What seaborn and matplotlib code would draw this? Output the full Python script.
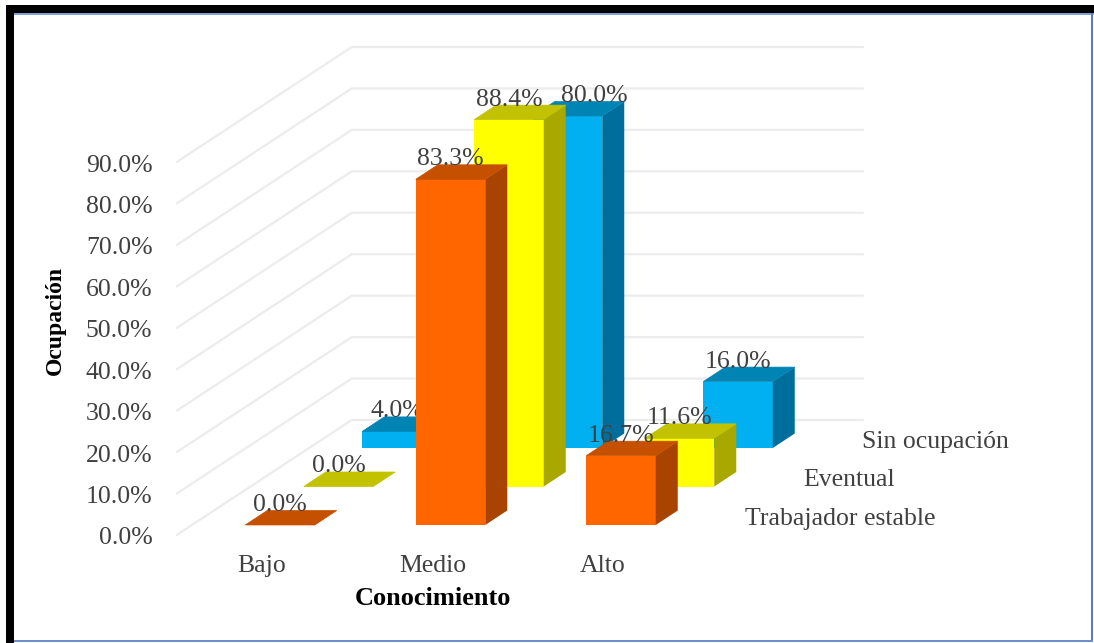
import matplotlib
matplotlib.use("Agg")
import matplotlib.pyplot as plt
from matplotlib.patches import Rectangle
from matplotlib.transforms import ScaledTranslation
import pandas as pd
import seaborn as sns

# ---- data ----
niveles = ["Bajo", "Medio", "Alto"]
trabajador_estable = [0.0, 83.3, 16.7]
eventual = [0.0, 88.4, 11.6]
sin_ocupacion = [4.0, 80.0, 16.0]
series_nombres = ["Trabajador estable", "Eventual", "Sin ocupación"]
y_ticks = [0, 10, 20, 30, 40, 50, 60, 70, 80, 90]
eje_x = "Conocimiento"
eje_y = "Ocupación"

# ---- styles ----
sns.set_theme(style="white")
plt.rcParams["font.family"] = ["Liberation Serif", "DejaVu Serif"]
W, H = 1094, 643
FS = 18.5
TXT = "#404040"
front = ["#FF6600", "#FFFF00", "#00B0F0"]
top = ["#C45000", "#C2C200", "#0084B4"]
side = ["#A84400", "#A8A800", "#006E9C"]

CAT_PX = 170.5      # px per category
PCT_PX = 4.15       # px per percent
DEPTH_X, DEPTH_Y = 22.0, 14.5        # bar depth, px
STEP_X, STEP_Y = 58.5, 38.5          # shift between series, px

fig = plt.figure(figsize=(W / 100, H / 100), dpi=100, facecolor="white")


def place(left_px, bottom_px, w_px, h_px, **kw):
    return fig.add_axes([left_px / W, 1 - bottom_px / H, w_px / W, h_px / H], **kw)


# ---- back wall, gridlines, axis labels ----
wall = place(176.75, 535, 3 * CAT_PX, 90 * 373 / 90)
wall.set_xlim(-0.5, 2.5)
wall.set_ylim(0, 90)
wall.set_xticks(range(len(niveles)))
wall.set_xticklabels(niveles, fontsize=FS, color=TXT)
wall.set_yticks(y_ticks)
wall.set_yticklabels([f"{v:.1f}%" for v in y_ticks], fontsize=FS, color=TXT,
                     va="center")
wall.tick_params(axis="x", length=0, pad=14.5)
wall.tick_params(axis="y", length=0, pad=17.5)
for lab in wall.get_yticklabels():
    lab.set_transform(lab.get_transform()
                      + ScaledTranslation(0, -3.5 / 100, fig.dpi_scale_trans))
sns.despine(ax=wall, left=True, bottom=True, right=True, top=True)
wall.set_xlabel(eje_x, fontsize=19, fontweight="bold", color="black", labelpad=7)
wall.set_ylabel(eje_y, fontsize=17, fontweight="bold", color="black", va="center")
wall.yaxis.set_label_coords((55 - 176.75) / (3 * CAT_PX), (535 - 320) / 373)
wall_dx = 175 / CAT_PX
wall_dy = 115 / (373 / 90)
wall_end = -0.5 + (863 - 176.75) / CAT_PX
for v in y_ticks:
    wall.plot([-0.5, -0.5 + wall_dx, wall_end], [v, v + wall_dy, v + wall_dy],
              color="#ECECEC", lw=1.6, clip_on=False, zorder=1)

# ---- one layer of bars per series, back to front ----
valores = [trabajador_estable, eventual, sin_ocupacion]
label_nudge = {(2, 1): 27}   # the 80.0% label sits to the right of its bar

for s in [2, 1, 0]:
    left = 194.75 + STEP_X * s
    base = 525 - STEP_Y * s
    ax = place(left, base, 3 * CAT_PX, 90 * PCT_PX)
    ax.patch.set_visible(False)
    df = pd.DataFrame({"nivel": niveles, "valor": valores[s]})
    sns.barplot(data=df, x="nivel", y="valor", order=niveles, color=front[s],
                saturation=1, width=69.5 / CAT_PX, ax=ax, clip_on=False, linewidth=0)
    ax.set_xlim(-0.5, 2.5)
    ax.set_ylim(0, 90)
    ax.set_axis_off()
    dx, dy = DEPTH_X / CAT_PX, DEPTH_Y / PCT_PX
    for i, bar in enumerate(list(ax.patches)):
        x0, x1, v = bar.get_x(), bar.get_x() + bar.get_width(), bar.get_height()
        ax.fill([x1, x1 + dx, x1 + dx, x1], [0, dy, v + dy, v], color=side[s],
                lw=0, clip_on=False)
        ax.fill([x0, x1, x1 + dx, x0 + dx], [v, v, v + dy, v + dy], color=top[s],
                lw=0.5, clip_on=False)
        ax.annotate(f"{valores[s][i]:.1f}%", xy=((x0 + x1) / 2, v),
                    xytext=(label_nudge.get((s, i), 0) * 0.72, 20 * 0.72),
                    textcoords="offset points", ha="center", va="center",
                    fontsize=FS, color=TXT, annotation_clip=False)
    ax.annotate(series_nombres[s], xy=(1, 0), xycoords="axes fraction",
                xytext=(38.75 * 0.72, 6 * 0.72), textcoords="offset points",
                ha="left", va="center", fontsize=FS, color=TXT,
                annotation_clip=False)

# ---- picture frame ----
def frame(x, y, w, h, c):
    fig.add_artist(Rectangle((x / W, 1 - (y + h) / H), w / W, h / H, color=c,
                             lw=0, transform=fig.transFigure))


frame(6, 5, W - 6, 8, "black")
frame(6, 5, 8, H - 5, "black")
frame(14, 13, W - 14, 1.5, "#7F9FD8")
frame(1091, 13, 2, H - 15, "#5B7CC0")
frame(14, 640, W - 15, 2, "#6F8FCC")

fig.savefig("out.png", dpi=100)
